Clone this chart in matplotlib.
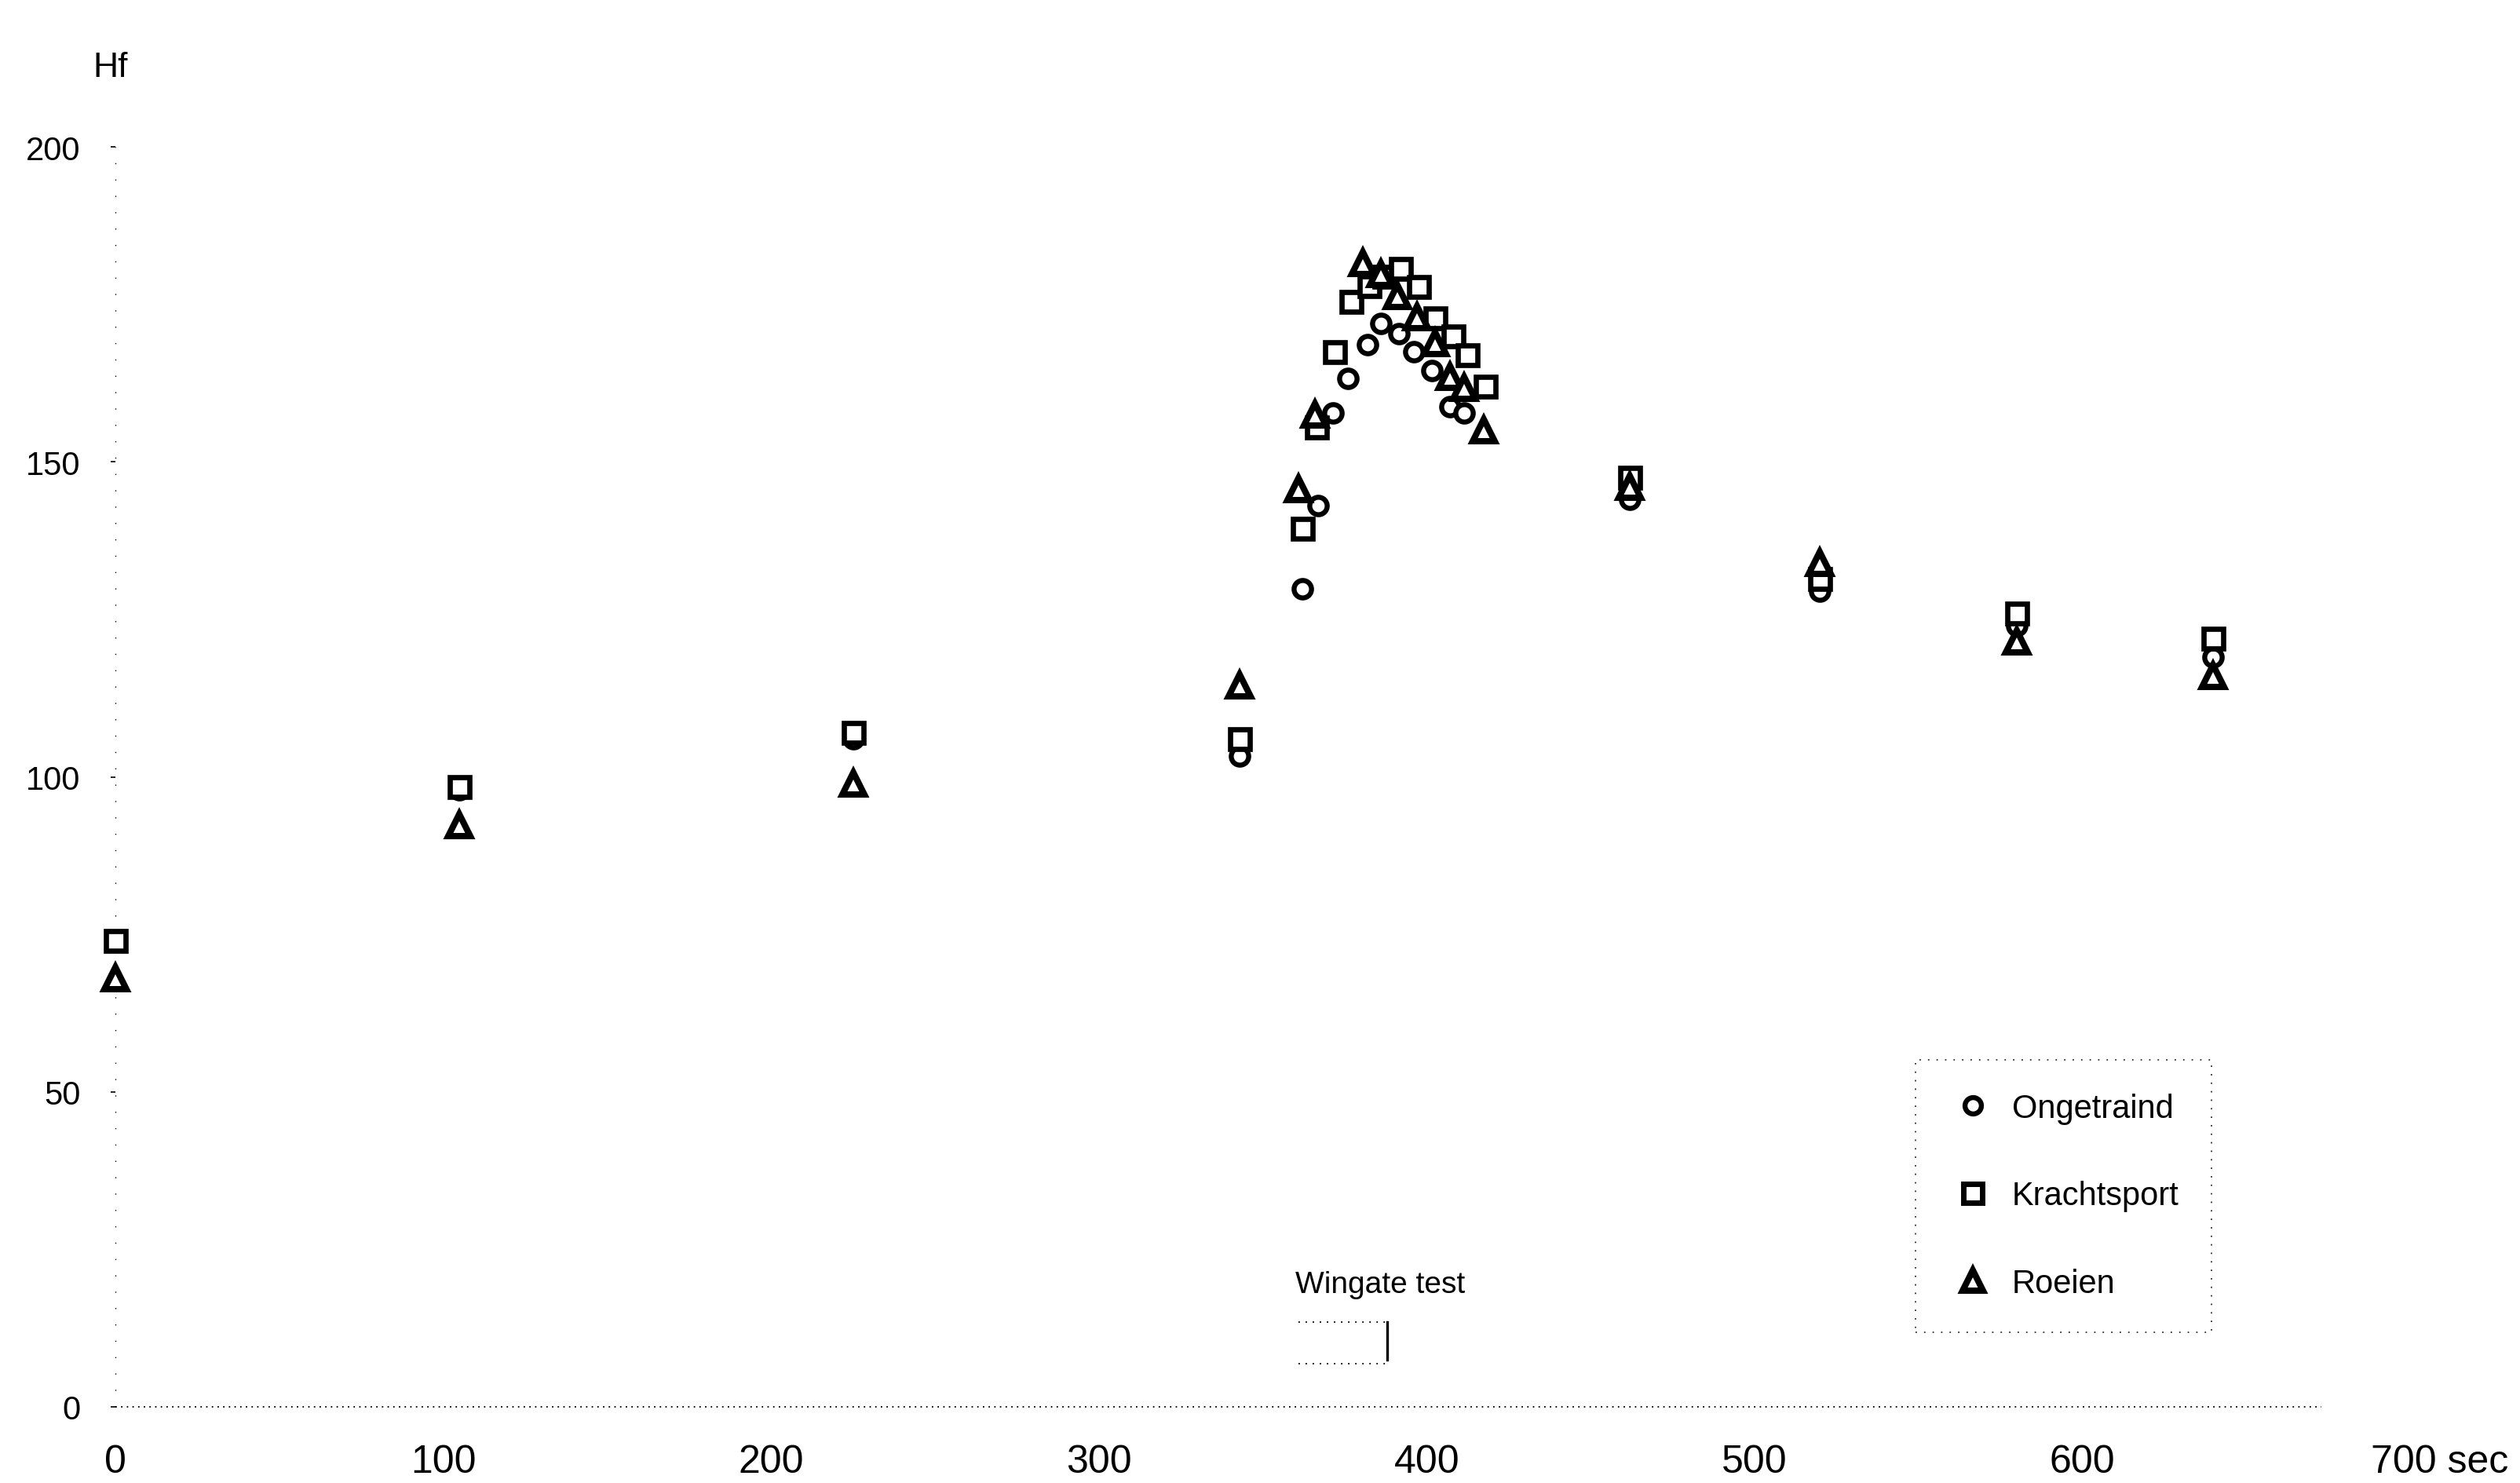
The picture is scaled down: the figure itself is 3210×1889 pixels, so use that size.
import matplotlib
matplotlib.use("Agg")
import matplotlib.pyplot as plt
from matplotlib.lines import Line2D

plt.rcParams['font.family'] = ['Liberation Sans', 'DejaVu Sans']

# ---- data ----
ongetraind_t = [0, 105, 225, 343, 362, 367, 371.5, 376, 382, 386, 391.5, 396, 401.5, 407, 411.5, 462, 520, 580, 640]
ongetraind_hf = [74, 98, 106, 103.3, 129.8, 143, 157.7, 163.3, 168.6, 172, 170.4, 167.5, 164.5, 158.7, 157.7, 144, 129.5, 124, 119]

krachtsport_t = [0, 105, 225, 343, 362, 366.5, 372, 377, 382.5, 387, 392, 397.5, 402.5, 408, 412.5, 418, 462, 520, 580, 640]
krachtsport_hf = [74, 98.5, 107, 106, 139.5, 155.5, 167.5, 175.5, 178, 179.5, 180.7, 177.8, 172.8, 170, 167, 162, 147.5, 131.5, 126, 122]

roeien_t = [0, 105, 225, 343, 361, 366, 380.5, 386, 391, 397, 402.5, 407, 411.5, 417.5, 462, 520, 580, 640]
roeien_hf = [68, 92.3, 99, 114.5, 145.7, 157.5, 181.5, 179.8, 176.3, 173, 168.9, 163.5, 161.7, 155, 146, 134, 121.5, 116]

series_labels = ["Ongetraind", "Krachtsport", "Roeien"]
x_ticks = [0, 100, 200, 300, 400, 500, 600]
x_ticklabels = ["0", "100", "200", "300", "400", "500", "600"]
x_last_label = "700 sec"
x_last_pos = 688
y_ticks = [0, 50, 100, 150, 200]
wingate_start, wingate_end = 361, 388

# ---- figure ----
W, H = 3210, 1890
fig = plt.figure(figsize=(W / 100, H / 100), dpi=100)
x0_px, x700_px = 147, 3070
y0_px, y200_px = 1793, 188
ax = fig.add_axes([x0_px / W, (H - y0_px) / H, (x700_px - x0_px) / W, (y0_px - y200_px) / H])
ax.set_xlim(0, 700)
ax.set_ylim(0, 200)

for s in ax.spines.values():
    s.set_visible(False)

# dotted axis lines
ax.plot([0, 673], [0, 0], linestyle=(0, (1, 3)), color='black', linewidth=1.3, clip_on=False)
ax.plot([0, 0], [0, 200], linestyle=(0, (1, 14)), color='black', linewidth=1.0, clip_on=False)

mk_common = dict(linestyle='none', markeredgecolor='black', markerfacecolor='white', clip_on=False)
ax.plot(ongetraind_t, ongetraind_hf, marker='o', markersize=16, markeredgewidth=4.6, **mk_common)
ax.plot(krachtsport_t, krachtsport_hf, marker='s', markersize=18, markeredgewidth=4.8, **mk_common)
ax.plot(roeien_t, roeien_hf, marker='^', markersize=20, markeredgewidth=5.8, **mk_common)

ax.set_xticks(x_ticks)
ax.set_xticklabels(x_ticklabels, fontsize=36)
ax.set_yticks(y_ticks)
ax.set_yticklabels([str(v) for v in y_ticks], fontsize=30)
ax.tick_params(axis='x', length=0, pad=34)
ax.tick_params(axis='y', length=4, width=1.2, pad=28, direction='out')

# final x label "700 sec", aligned with the other tick labels
fig.canvas.draw()
bb = ax.get_xticklabels()[1].get_window_extent()
fig.text((x0_px + (x_last_pos / 700) * (x700_px - x0_px)) / W, bb.y0 / H, x_last_label,
         fontsize=36, ha='left', va='bottom')

fig.text(118 / W, 1 - 86 / H, "Hf", fontsize=32, ha='left', va='center')

# Wingate test annotation
ax.text(wingate_start - 1, 19.5, "Wingate test", fontsize=28, ha='left', va='center')
ax.plot([wingate_start, wingate_end], [13.5, 13.5], linestyle=(0, (1, 4)), color='black', linewidth=1.3)
ax.plot([wingate_start, wingate_end], [6.8, 6.8], linestyle=(0, (1, 4)), color='black', linewidth=1.3)
ax.plot([wingate_end, wingate_end], [7.5, 13.5], color='black', linewidth=2.4)

# legend
handles = [
    Line2D([], [], marker='o', markersize=15, markeredgewidth=4.6, **mk_common),
    Line2D([], [], marker='s', markersize=17, markeredgewidth=5.0, **mk_common),
    Line2D([], [], marker='^', markersize=19, markeredgewidth=5.8, **mk_common),
]
leg = ax.legend(handles, series_labels, loc='upper left',
                bbox_to_anchor=(2440 / W, 1 - 1351 / H), bbox_transform=fig.transFigure,
                fontsize=30, frameon=True, fancybox=False, labelspacing=1.72,
                handletextpad=0.45, borderpad=1.0, handlelength=1.5, borderaxespad=0)
fr = leg.get_frame()
fr.set_linestyle((0, (1, 5)))
fr.set_edgecolor('black')
fr.set_linewidth(1.3)

fig.savefig("out.png", dpi=100, facecolor='white')
